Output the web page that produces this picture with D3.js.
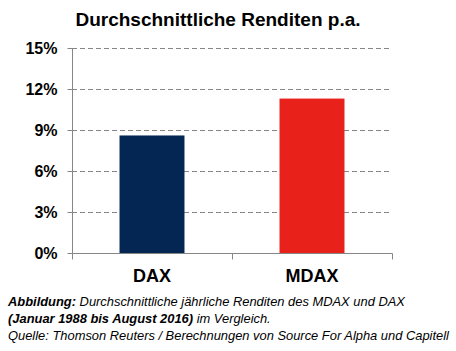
<!DOCTYPE html>
<html>
<head>
<meta charset="utf-8">
<script src="https://cdn.jsdelivr.net/npm/d3@7"></script>
<style>
  body { margin: 0; background: #fff; }
  text { font-family: "Liberation Sans", Arial, sans-serif; }
</style>
</head>
<body>
<script>
var categories = ["DAX", "MDAX"];
var values = [8.6, 11.3];
var colors = ["#032752", "#E8221B"];
var yTicks = [0, 3, 6, 9, 12, 15];

var svg = d3.select("body").append("svg")
  .attr("width", 456)
  .attr("height", 351);

var margin = { top: 48, left: 72, right: 64, bottom: 98 },
  width = 456 - margin.left - margin.right,
  height = 351 - margin.top - margin.bottom,
  g = svg.append("g").attr("transform", "translate(" + margin.left + "," + margin.top + ")");

var x = d3.scaleBand()
  .domain(categories)
  .range([0, width])
  .paddingInner(0.594)
  .paddingOuter(0.297);

var y = d3.scaleLinear()
  .domain([0, 15])
  .range([height, 0]);

// title
svg.append("text")
  .attr("x", 218)
  .attr("y", 26)
  .style("text-anchor", "middle")
  .style("font-weight", "bold")
  .style("font-size", "19px")
  .attr("fill", "#000")
  .text("Durchschnittliche Renditen p.a.");

// gridlines
g.append("g")
  .selectAll("line")
  .data(yTicks.filter(function (d) { return d > 0; }))
  .enter().append("line")
  .attr("x1", 0)
  .attr("x2", width)
  .attr("y1", function (d) { return y(d) + 0.5; })
  .attr("y2", function (d) { return y(d) + 0.5; })
  .attr("stroke", "#868686")
  .attr("stroke-width", 1)
  .attr("stroke-dasharray", "5,3");

// bars
g.append("g")
  .selectAll("rect")
  .data(values)
  .enter().append("rect")
  .attr("x", function (d, i) { return x(categories[i]); })
  .attr("width", x.bandwidth())
  .attr("y", function (d) { return y(d); })
  .attr("height", function (d) { return height - y(d); })
  .attr("fill", function (d, i) { return colors[i]; });

// y axis
var yAxis = g.append("g")
  .attr("transform", "translate(0.5,0)")
  .call(d3.axisLeft(y)
    .tickValues(yTicks)
    .tickSize(5)
    .tickPadding(10)
    .tickFormat(function (d) { return d + "%"; }));
yAxis.select(".domain").attr("stroke", "#868686").attr("d", "M0,0.5V" + (height + 0.5));
yAxis.selectAll(".tick line").attr("stroke", "#868686");
yAxis.selectAll(".tick text")
  .attr("fill", "#000")
  .style("font-size", "16px")
  .style("font-weight", "bold")
  .style("font-family", "'Liberation Sans', Arial, sans-serif");

// x axis
var xAxis = g.append("g")
  .attr("transform", "translate(0," + (height + 0.5) + ")")
  .call(d3.axisBottom(x).tickSize(0).tickPadding(16));
xAxis.select(".domain").attr("stroke", "#868686").attr("d", "M0.5,0H" + (width + 0.5));
xAxis.selectAll(".tick text")
  .attr("fill", "#000")
  .attr("dy", "0.71em")
  .style("font-size", "18px")
  .style("font-weight", "bold")
  .style("font-family", "'Liberation Sans', Arial, sans-serif");
// category separators
xAxis.append("g")
  .selectAll("line")
  .data([0, 1, 2])
  .enter().append("line")
  .attr("x1", function (d) { return d * x.step() + 0.5; })
  .attr("x2", function (d) { return d * x.step() + 0.5; })
  .attr("y1", 0)
  .attr("y2", 6)
  .attr("stroke", "#868686");

// caption
var cap = svg.append("text")
  .attr("x", 8)
  .attr("y", 306)
  .style("font-size", "12.9px")
  .style("font-style", "italic")
  .attr("fill", "#000");
var l1 = cap.append("tspan").attr("x", 8).attr("y", 306);
l1.append("tspan").style("font-weight", "bold").text("Abbildung:");
l1.append("tspan").text(" Durchschnittliche jährliche Renditen des MDAX und DAX");
var l2 = cap.append("tspan").attr("x", 8).attr("y", 323);
l2.append("tspan").style("font-weight", "bold").text("(Januar 1988 bis August 2016)");
l2.append("tspan").text(" im Vergleich.");
cap.append("tspan").attr("x", 8).attr("y", 340)
  .text("Quelle: Thomson Reuters / Berechnungen von Source For Alpha und Capitell");
</script>
</body>
</html>
